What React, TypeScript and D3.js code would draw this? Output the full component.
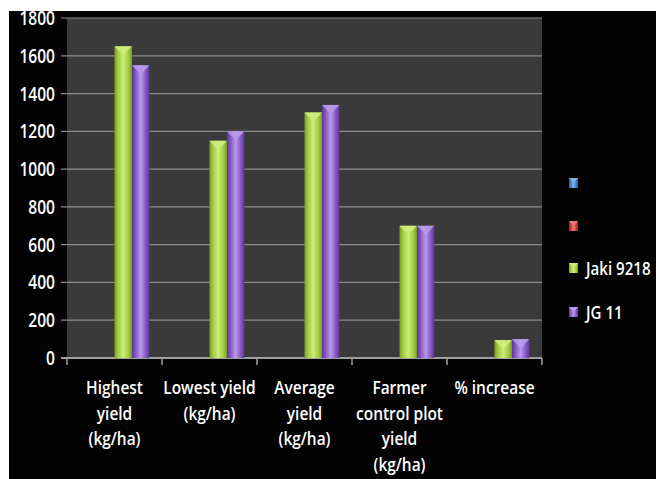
import React, { useEffect, useRef } from "react";
import * as d3 from "d3";

const categories = [
  ["Highest", "yield", "(kg/ha)"],
  ["Lowest yield", "(kg/ha)"],
  ["Average", "yield", "(kg/ha)"],
  ["Farmer", "control plot", "yield", "(kg/ha)"],
  ["% increase"],
];
const seriesNames = ["Series1", "Series2", "Jaki 9218", "JG 11"];
const legendLabels = ["", "", "Jaki 9218", "JG 11"];
const series1 = [0, 0, 0, 0, 0];
const series2 = [0, 0, 0, 0, 0];
const jaki9218 = [1650, 1150, 1300, 700, 95];
const jg11 = [1550, 1200, 1340, 700, 100];
const yTicks = [0, 200, 400, 600, 800, 1000, 1200, 1400, 1600, 1800];

const seriesColors = [
  { base: "#3d7fc9", light: "#7fb2ea", dark: "#255a98" },
  { base: "#c9393a", light: "#ea7a7a", dark: "#8f2324" },
  { base: "#a2cd3c", light: "#cdec80", dark: "#7a9e26" },
  { base: "#8456c4", light: "#b99ae8", dark: "#5c3894" },
];

const App = () => {
  const svgRef = useRef<SVGSVGElement>(null);

  useEffect(() => {
    const width = 656, height = 479;
    const plot = { left: 67, right: 542, top: 18, bottom: 358 };
    const font = "'Open Sans', sans-serif";

    const svg = d3.select(svgRef.current)
      .attr("width", width)
      .attr("height", height);
    svg.selectAll("*").remove();

    // gradients for the bevelled bars
    const defs = svg.append("defs");
    seriesColors.forEach((c, i) => {
      const g = defs.append("linearGradient")
        .attr("id", `bar${i}`)
        .attr("x1", 0).attr("x2", 1).attr("y1", 0).attr("y2", 0);
      g.append("stop").attr("offset", "0%").attr("stop-color", c.dark);
      g.append("stop").attr("offset", "20%").attr("stop-color", c.base);
      g.append("stop").attr("offset", "50%").attr("stop-color", c.light);
      g.append("stop").attr("offset", "80%").attr("stop-color", c.base);
      g.append("stop").attr("offset", "100%").attr("stop-color", c.dark);
    });

    svg.append("rect").attr("width", width).attr("height", height).attr("fill", "#fff");
    svg.append("rect").attr("x", 9).attr("y", 11)
      .attr("width", width - 9).attr("height", height - 11).attr("fill", "#030303");

    svg.append("rect")
      .attr("x", plot.left).attr("y", plot.top)
      .attr("width", plot.right - plot.left).attr("height", plot.bottom - plot.top)
      .attr("fill", "#3a3a3a");

    const xScale = d3.scaleBand<number>()
      .domain(d3.range(categories.length))
      .range([plot.left, plot.right]);

    const inner = d3.scaleBand<number>()
      .domain(d3.range(seriesNames.length))
      .range([0, xScale.bandwidth()])
      .paddingOuter(0.72);

    const yScale = d3.scaleLinear()
      .domain([0, 1800])
      .range([plot.bottom, plot.top]);

    // gridlines
    svg.append("g").selectAll("line")
      .data(yTicks)
      .enter().append("line")
      .attr("x1", plot.left - 6).attr("x2", plot.right)
      .attr("y1", d => yScale(d)).attr("y2", d => yScale(d))
      .attr("stroke", d => d === 0 ? "#a0a0a0" : "#8c8c8c")
      .attr("stroke-width", d => d === 0 ? 2 : 1.2);

    // y tick labels (narrow, like Calibri)
    svg.append("g").selectAll("text")
      .data(yTicks)
      .enter().append("text")
      .attr("transform", d => `translate(55,${yScale(d) + 7}) scale(0.82,1)`)
      .attr("text-anchor", "end")
      .attr("font-family", font).attr("font-size", 19).attr("font-weight", 600)
      .attr("fill", "#fff")
      .text(d => d);

    // x axis ticks between categories
    svg.append("g").selectAll("line")
      .data(d3.range(categories.length + 1))
      .enter().append("line")
      .attr("x1", i => plot.left + i * xScale.bandwidth())
      .attr("x2", i => plot.left + i * xScale.bandwidth())
      .attr("y1", plot.bottom).attr("y2", plot.bottom + 7)
      .attr("stroke", "#a0a0a0").attr("stroke-width", 1.5);

    // bars
    const allSeries = [series1, series2, jaki9218, jg11];
    const bw = inner.bandwidth();
    allSeries.forEach((vals, s) => {
      const g = svg.append("g");
      vals.forEach((v, i) => {
        if (!v) return;
        const x = xScale(i)! + inner(s)!;
        const y = yScale(v);
        g.append("rect")
          .attr("x", x).attr("y", y)
          .attr("width", bw).attr("height", plot.bottom - y)
          .attr("fill", `url(#bar${s})`);
        g.append("polygon")
          .attr("points", `${x},${y} ${x + bw},${y} ${x + bw / 2},${y + 9}`)
          .attr("fill", seriesColors[s].light)
          .attr("opacity", 0.9);
      });
    });

    // category labels
    const lab = svg.append("g");
    categories.forEach((lines, i) => {
      const cx = xScale(i)! + xScale.bandwidth() / 2;
      lines.forEach((line, j) => {
        lab.append("text")
          .attr("transform", `translate(${cx},${394 + j * 25.5}) scale(0.86,1)`)
          .attr("text-anchor", "middle")
          .attr("font-family", font).attr("font-size", 18).attr("font-weight", 600)
          .attr("fill", "#fff")
          .text(line);
      });
    });

    // legend
    const legendY = [183, 226, 268, 312];
    const leg = svg.append("g");
    seriesNames.forEach((name, s) => {
      const y = legendY[s];
      leg.append("rect")
        .attr("x", 569).attr("y", y - 5)
        .attr("width", 9).attr("height", 10)
        .attr("fill", `url(#bar${s})`);
      leg.append("polygon")
        .attr("points", `${569},${y - 5} ${578},${y - 5} ${573.5},${y}`)
        .attr("fill", seriesColors[s].light);
      leg.append("text")
        .attr("transform", `translate(586,${y + 7}) scale(0.84,1)`)
        .attr("font-family", font).attr("font-size", 18).attr("font-weight", 600)
        .attr("fill", "#fff")
        .text(legendLabels[s]);
    });
  }, []);

  return (
    <svg ref={svgRef} style={{ position: "fixed", left: 0, top: 0, display: "block" }}></svg>
  );
};

export default App;
